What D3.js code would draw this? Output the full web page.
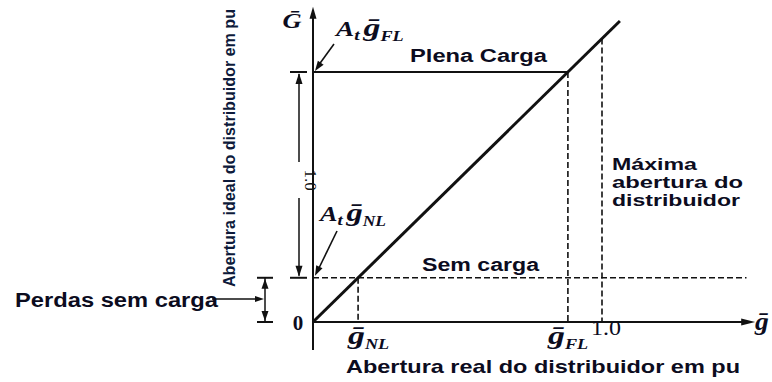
<!DOCTYPE html>
<html><head><meta charset="utf-8">
<script src="https://cdn.jsdelivr.net/npm/d3@7"></script>
<style>html,body{margin:0;padding:0;background:#fff;}svg{display:block;}</style>
</head><body>
<svg id="c" width="772" height="382"></svg>
<script>
// ---- data (per unit) ----
const gateReal = [0, 1.062];          // real gate opening range for the characteristic
const gNL = 0.156;                    // no-load real gate opening
const gFL = 0.882;                    // full-load real gate opening
const gMax = 1.0;                     // maximum gate opening
const At = 1.376;                     // turbine gain
const xTickLabels = ["ḡ", "1.0"];
const levelNames = ["Plena Carga", "Sem carga"];

const svg = d3.select("#c");
const x = d3.scaleLinear().domain([0, 1]).range([313, 602]);
const y = d3.scaleLinear().domain([0, 1]).range([322, 116]);
const GNL = At * gNL, GFL = At * gFL;
const ink = "#111";
const txt = "#0c0c1e";
const sans = "Liberation Sans, Arial, sans-serif";
const serif = "Liberation Serif, Times New Roman, serif";

function arrowHead(tipX, tipY, angleDeg, len, w) {
  const a = angleDeg * Math.PI / 180;
  const bx = tipX - len * Math.cos(a), by = tipY - len * Math.sin(a);
  const px = -Math.sin(a) * w / 2, py = Math.cos(a) * w / 2;
  svg.append("path").attr("d", `M${tipX},${tipY}L${bx + px},${by + py}L${bx - px},${by - py}Z`).attr("fill", ink);
}
function label(xx, yy, s, size, len, anchor) {
  return svg.append("text").attr("x", xx).attr("y", yy).attr("font-family", sans).attr("font-weight", "bold")
    .attr("font-size", size).attr("fill", txt).attr("textLength", len).attr("lengthAdjust", "spacingAndGlyphs")
    .attr("text-anchor", anchor || "start").text(s);
}

// axes
svg.append("line").attr("x1", x(0)).attr("x2", x(0)).attr("y1", y(-0.136)).attr("y2", y(1.5)).attr("stroke", ink).attr("stroke-width", 2);
arrowHead(x(0), y(1.53), -90, 12, 7);
svg.append("line").attr("x1", x(0)).attr("x2", x(1.5)).attr("y1", y(0)).attr("y2", y(0)).attr("stroke", ink).attr("stroke-width", 2);
arrowHead(x(1.53), y(0), 0, 14, 7);

// characteristic line
svg.append("path").datum(gateReal)
  .attr("d", d3.line().x(d => x(d)).y(d => y(At * d)))
  .attr("stroke", ink).attr("stroke-width", 3).attr("fill", "none");

// full-load horizontal
svg.append("line").attr("x1", x(0)).attr("x2", x(gFL)).attr("y1", y(GFL)).attr("y2", y(GFL)).attr("stroke", ink).attr("stroke-width", 2);
// no-load dashed horizontal
svg.append("line").attr("x1", x(0)).attr("x2", x(1.5)).attr("y1", y(GNL)).attr("y2", y(GNL)).attr("stroke", ink).attr("stroke-width", 1.6).attr("stroke-dasharray", "6,3");
// dashed verticals
[[gNL, GNL], [gFL, GFL], [gMax, At * gMax]].forEach(([g, G]) => {
  svg.append("line").attr("x1", x(g)).attr("x2", x(g)).attr("y1", y(G)).attr("y2", y(0)).attr("stroke", ink).attr("stroke-width", 1.6).attr("stroke-dasharray", "6,3");
});

// dimension 1.0
const dX = 299;
[GNL, GFL].forEach(G => svg.append("line").attr("x1", dX - 9).attr("x2", dX + 8).attr("y1", y(G)).attr("y2", y(G)).attr("stroke", ink).attr("stroke-width", 2));
svg.append("line").attr("x1", dX).attr("x2", dX).attr("y1", y(GFL) + 2).attr("y2", 162).attr("stroke", ink).attr("stroke-width", 1.5);
svg.append("line").attr("x1", dX).attr("x2", dX).attr("y1", 198).attr("y2", y(GNL) - 2).attr("stroke", ink).attr("stroke-width", 1.5);
arrowHead(dX, y(GFL) + 1, -90, 11, 7);
arrowHead(dX, y(GNL) - 1, 90, 11, 7);
svg.append("text").attr("transform", `translate(${dX + 6},180) rotate(90)`).attr("text-anchor", "middle")
  .attr("font-family", serif).attr("font-size", 17).attr("fill", ink).text("1.0");

// dimension perdas sem carga
const pX = 265;
[GNL, 0].forEach(G => svg.append("line").attr("x1", pX - 8).attr("x2", pX + 8).attr("y1", y(G)).attr("y2", y(G)).attr("stroke", ink).attr("stroke-width", 2));
svg.append("line").attr("x1", pX).attr("x2", pX).attr("y1", y(GNL)).attr("y2", y(0)).attr("stroke", ink).attr("stroke-width", 1.5);
arrowHead(pX, y(GNL) + 1, -90, 10, 7);
arrowHead(pX, y(0) - 1, 90, 10, 7);
svg.append("line").attr("x1", 212).attr("x2", pX - 4).attr("y1", 299).attr("y2", 299).attr("stroke", ink).attr("stroke-width", 1.5);
arrowHead(pX - 1, 299, 0, 9, 6);
label(15, 307, "Perdas sem carga", 20, 203);

// pointer arrows
svg.append("line").attr("x1", 334).attr("y1", 44).attr("x2", 318).attr("y2", 66).attr("stroke", ink).attr("stroke-width", 1.6);
arrowHead(315, y(GFL) - 1, 125, 10, 7);
svg.append("line").attr("x1", 337).attr("y1", 231).attr("x2", 319).attr("y2", 268).attr("stroke", ink).attr("stroke-width", 1.6);
arrowHead(315, y(GNL) - 2, 116, 10, 7);

// math labels (horizontally stretched like the reference)
function mathLabel(xx, yy, parts, sx) {
  const g = svg.append("g").attr("transform", `translate(${xx},${yy}) scale(${sx || 1.3},1)`);
  const t = g.append("text").attr("x", 0).attr("y", 0).attr("font-family", serif).attr("font-weight", "bold").attr("font-style", "italic").attr("fill", txt);
  parts.forEach(p => {
    const s = t.append("tspan").text(p.t).attr("font-size", p.s);
    if (p.dy) s.attr("dy", p.dy);
    if (p.dx) s.attr("dx", p.dx);
  });
  return t;
}
mathLabel(336, 36, [{t: "A", s: 21}, {t: "t", s: 15, dy: 4}, {t: "ḡ", s: 26, dy: -4, dx: 3}, {t: "FL", s: 14, dy: 5}], 1.3);
mathLabel(320, 221, [{t: "A", s: 21}, {t: "t", s: 15, dy: 4}, {t: "ḡ", s: 26, dy: -4, dx: 3}, {t: "NL", s: 14, dy: 5}], 1.25);
mathLabel(348, 344, [{t: "ḡ", s: 26}, {t: "NL", s: 14, dy: 5}], 1.3);
mathLabel(548, 344, [{t: "ḡ", s: 26}, {t: "FL", s: 14, dy: 5}], 1.3);
svg.append("g").attr("transform", `translate(${x(gMax) + 4},335) scale(1.2,1)`).append("text").attr("text-anchor", "middle")
  .attr("font-family", serif).attr("font-size", 20).attr("fill", txt).text(xTickLabels[1]);
svg.append("text").attr("x", 298).attr("y", 330).attr("text-anchor", "middle").attr("font-family", serif).attr("font-weight", "bold").attr("font-size", 21).attr("fill", txt).text("0");
mathLabel(755, 330, [{t: xTickLabels[0], s: 25}], 1.1);
svg.append("g").attr("transform", "translate(292,28) scale(1.2,1)").append("text").attr("text-anchor", "middle").attr("font-family", serif).attr("font-weight", "bold").attr("font-style", "italic").attr("font-size", 22).attr("fill", txt).text("Ḡ");

// texts
label(410, 62, levelNames[0], 18, 137);
label(422, 271, levelNames[1], 18, 117);
[["Máxima", 85], ["abertura do", 131], ["distribuidor", 128]].forEach(([s, w], i) => label(612, 170 + i * 18, s, 17, w));
label(346, 373, "Abertura real do distribuidor em pu", 19, 394);
svg.append("text").attr("transform", "translate(235,148) rotate(-90)").attr("text-anchor", "middle").attr("font-family", sans)
  .attr("font-weight", "bold").attr("font-size", 16).attr("fill", "#0d1a3a").attr("textLength", 278).attr("lengthAdjust", "spacingAndGlyphs")
  .text("Abertura ideal do distribuidor em pu");
</script>
</body></html>
